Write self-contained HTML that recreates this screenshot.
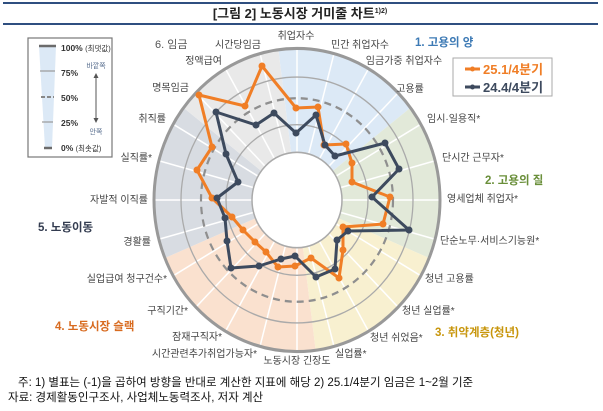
<!DOCTYPE html>
<html><head><meta charset="utf-8">
<style>
html,body{margin:0;padding:0;background:#fff;}
svg{display:block;font-family:"Liberation Sans","Noto Sans CJK KR",sans-serif;}
.lb{font-size:10px;fill:#444;}
</style></head><body>
<svg width="603" height="411" viewBox="0 0 603 411">
<line x1="3" y1="3" x2="598" y2="3" stroke="#2f4f80" stroke-width="2"/>
<line x1="3" y1="24" x2="598" y2="24" stroke="#2f4f80" stroke-width="2"/>
<text x="300" y="18" text-anchor="middle" font-size="13" font-weight="bold" fill="#222">[그림 2]  노동시장 거미줄 차트<tspan font-size="7" dy="-5">1)2)</tspan></text>

<g transform="translate(297,200) scale(1,1.06)">
<path d="M0,0 L-18.66,-141.77 A143,143 0 0 1 113.46,-87.06 Z" fill="#dce9f6"/>
<path d="M0,0 L113.46,-87.06 A143,143 0 0 1 132.12,54.73 Z" fill="#e2e9d9"/>
<path d="M0,0 L132.12,54.73 A143,143 0 0 1 18.66,141.77 Z" fill="#f8f0d0"/>
<path d="M0,0 L18.66,141.77 A143,143 0 0 1 -132.12,54.73 Z" fill="#fae1cf"/>
<path d="M0,0 L-132.12,54.73 A143,143 0 0 1 -113.46,-87.06 Z" fill="#d8dce2"/>
<path d="M0,0 L-113.46,-87.06 A143,143 0 0 1 -18.66,-141.77 Z" fill="#e9e9e9"/>
<g stroke="#fff" stroke-width="1.5">
<line x1="0" y1="-45" x2="0" y2="-143" transform="rotate(0)"/>
<line x1="0" y1="-45" x2="0" y2="-143" transform="rotate(15)"/>
<line x1="0" y1="-45" x2="0" y2="-143" transform="rotate(30)"/>
<line x1="0" y1="-45" x2="0" y2="-143" transform="rotate(45)"/>
<line x1="0" y1="-45" x2="0" y2="-143" transform="rotate(60)"/>
<line x1="0" y1="-45" x2="0" y2="-143" transform="rotate(75)"/>
<line x1="0" y1="-45" x2="0" y2="-143" transform="rotate(90)"/>
<line x1="0" y1="-45" x2="0" y2="-143" transform="rotate(105)"/>
<line x1="0" y1="-45" x2="0" y2="-143" transform="rotate(120)"/>
<line x1="0" y1="-45" x2="0" y2="-143" transform="rotate(135)"/>
<line x1="0" y1="-45" x2="0" y2="-143" transform="rotate(150)"/>
<line x1="0" y1="-45" x2="0" y2="-143" transform="rotate(165)"/>
<line x1="0" y1="-45" x2="0" y2="-143" transform="rotate(180)"/>
<line x1="0" y1="-45" x2="0" y2="-143" transform="rotate(195)"/>
<line x1="0" y1="-45" x2="0" y2="-143" transform="rotate(210)"/>
<line x1="0" y1="-45" x2="0" y2="-143" transform="rotate(225)"/>
<line x1="0" y1="-45" x2="0" y2="-143" transform="rotate(240)"/>
<line x1="0" y1="-45" x2="0" y2="-143" transform="rotate(255)"/>
<line x1="0" y1="-45" x2="0" y2="-143" transform="rotate(270)"/>
<line x1="0" y1="-45" x2="0" y2="-143" transform="rotate(285)"/>
<line x1="0" y1="-45" x2="0" y2="-143" transform="rotate(300)"/>
<line x1="0" y1="-45" x2="0" y2="-143" transform="rotate(315)"/>
<line x1="0" y1="-45" x2="0" y2="-143" transform="rotate(330)"/>
<line x1="0" y1="-45" x2="0" y2="-143" transform="rotate(345)"/>
</g>
<circle r="45" fill="#fff" stroke="#aaa" stroke-width="1.5"/>
<circle r="71" fill="none" stroke="#aaa" stroke-width="1.3"/>
<circle r="96" fill="none" stroke="#8f8f8f" stroke-width="2.2" stroke-dasharray="7,5"/>
<circle r="116" fill="none" stroke="#aaa" stroke-width="1.3"/>
<circle r="143" fill="none" stroke="#999" stroke-width="3"/>
</g>

<g fill="none" stroke-width="3" stroke-linejoin="round">
<polygon stroke="#f07e26" points="296,108 318,107 324,145 346,144 352,163 352,182 390,197 383,224 343,227 343,250 339,278 311,258 295,266 278,267 266,252 255,242 243,230 232,217 212,198 197,170 212,147 199,95 245,106 262,66"/>
<polygon stroke="#3d4a5e" points="296,133 316,115 325,145 335,156 385,143 399,169 372,197 409,230 348,231 337,240 335,269 316,277 295,256 281,259 259,266 231,268 227,241 225,218 217,198 238,182 226,154 216,112 256,125 274,113"/>
</g>
<g fill="#f07e26">
<circle cx="296" cy="108" r="3.5"/><circle cx="318" cy="107" r="3.5"/><circle cx="324" cy="145" r="3.5"/><circle cx="346" cy="144" r="3.5"/><circle cx="352" cy="163" r="3.5"/><circle cx="352" cy="182" r="3.5"/><circle cx="390" cy="197" r="3.5"/><circle cx="383" cy="224" r="3.5"/><circle cx="343" cy="227" r="3.5"/><circle cx="343" cy="250" r="3.5"/><circle cx="339" cy="278" r="3.5"/><circle cx="311" cy="258" r="3.5"/><circle cx="295" cy="266" r="3.5"/><circle cx="278" cy="267" r="3.5"/><circle cx="266" cy="252" r="3.5"/><circle cx="255" cy="242" r="3.5"/><circle cx="243" cy="230" r="3.5"/><circle cx="232" cy="217" r="3.5"/><circle cx="212" cy="198" r="3.5"/><circle cx="197" cy="170" r="3.5"/><circle cx="212" cy="147" r="3.5"/><circle cx="199" cy="95" r="3.5"/><circle cx="245" cy="106" r="3.5"/><circle cx="262" cy="66" r="3.5"/>
</g>
<g fill="#3d4a5e">
<circle cx="296" cy="133" r="3.5"/><circle cx="316" cy="115" r="3.5"/><circle cx="325" cy="145" r="3.5"/><circle cx="335" cy="156" r="3.5"/><circle cx="385" cy="143" r="3.5"/><circle cx="399" cy="169" r="3.5"/><circle cx="372" cy="197" r="3.5"/><circle cx="409" cy="230" r="3.5"/><circle cx="348" cy="231" r="3.5"/><circle cx="337" cy="240" r="3.5"/><circle cx="335" cy="269" r="3.5"/><circle cx="316" cy="277" r="3.5"/><circle cx="295" cy="256" r="3.5"/><circle cx="281" cy="259" r="3.5"/><circle cx="259" cy="266" r="3.5"/><circle cx="231" cy="268" r="3.5"/><circle cx="227" cy="241" r="3.5"/><circle cx="225" cy="218" r="3.5"/><circle cx="217" cy="198" r="3.5"/><circle cx="238" cy="182" r="3.5"/><circle cx="226" cy="154" r="3.5"/><circle cx="216" cy="112" r="3.5"/><circle cx="256" cy="125" r="3.5"/><circle cx="274" cy="113" r="3.5"/>
</g>

<g class="lb">
<text x="296" y="39" text-anchor="middle">취업자수</text>
<text x="360" y="48" text-anchor="middle">민간 취업자수</text>
<text x="404" y="64" text-anchor="middle">임금가중 취업자수</text>
<text x="410" y="92" text-anchor="middle">고용률</text>
<text x="427" y="122">임시·일용직*</text>
<text x="442" y="161">단시간 근무자*</text>
<text x="447" y="202">영세업체 취업자*</text>
<text x="440" y="244">단순노무·서비스기능원*</text>
<text x="425" y="282">청년 고용률</text>
<text x="402" y="314">청년 실업률*</text>
<text x="370" y="341">청년 쉬었음*</text>
<text x="335" y="357">실업률*</text>
<text x="297" y="364" text-anchor="middle">노동시장 긴장도</text>
<text x="257" y="357" text-anchor="end">시간관련추가취업가능자*</text>
<text x="222" y="340" text-anchor="end">잠재구직자*</text>
<text x="188" y="314" text-anchor="end">구직기간*</text>
<text x="167" y="282" text-anchor="end">실업급여 청구건수*</text>
<text x="151" y="245" text-anchor="end">경활률</text>
<text x="148" y="203" text-anchor="end">자발적 이직률</text>
<text x="152" y="161" text-anchor="end">실직률*</text>
<text x="166" y="122" text-anchor="end">취직률</text>
<text x="189" y="91" text-anchor="end">명목임금</text>
<text x="222" y="64" text-anchor="end">정액급여</text>
<text x="238" y="48" text-anchor="middle">시간당임금</text>
</g>

<text x="155" y="48" font-size="11" fill="#555">6. 임금</text>
<text x="415" y="46" font-size="11.5" font-weight="bold" fill="#3d7ab5">1. 고용의 양</text>
<text x="485" y="184" font-size="11.5" font-weight="bold" fill="#6a8f3a">2. 고용의 질</text>
<text x="435" y="336" font-size="11.5" font-weight="bold" fill="#c8960c">3. 취약계층(청년)</text>
<text x="55" y="330" font-size="11.5" font-weight="bold" fill="#d86b20">4. 노동시장 슬랙</text>
<text x="38" y="231" font-size="11.5" font-weight="bold" fill="#333c50">5. 노동이동</text>

<rect x="28" y="38" width="84" height="119" fill="#fff" stroke="#777" stroke-width="1.2"/>
<polygon points="39,46 56,46 52,148 45,148" fill="#dce9f6"/>
<line x1="39" y1="46" x2="56" y2="46" stroke="#6b6b6b" stroke-width="2.5"/>
<line x1="40" y1="71" x2="55" y2="71" stroke="#999" stroke-width="1.2"/>
<line x1="41" y1="97" x2="54" y2="97" stroke="#888" stroke-width="2" stroke-dasharray="4,2"/>
<line x1="42" y1="122" x2="53" y2="122" stroke="#999" stroke-width="1.2"/>
<line x1="44" y1="148" x2="52" y2="148" stroke="#6b6b6b" stroke-width="2.5"/>
<g font-size="8.5" fill="#333" font-weight="bold">
<text x="61" y="51">100% <tspan font-weight="normal" font-size="7.5">(최댓값)</tspan></text>
<text x="61" y="76">75%</text>
<text x="61" y="101">50%</text>
<text x="61" y="126">25%</text>
<text x="61" y="151">0% <tspan font-weight="normal" font-size="7.5">(최솟값)</tspan></text>
</g>
<text x="96" y="68" font-size="7" fill="#5a6f8f" text-anchor="middle">바깥쪽</text>
<text x="96" y="134" font-size="7" fill="#5a6f8f" text-anchor="middle">안쪽</text>
<line x1="96" y1="76" x2="96" y2="120" stroke="#555" stroke-width="1"/>
<polygon points="96,73 93.5,78 98.5,78" fill="#555"/>
<polygon points="96,123 93.5,118 98.5,118" fill="#555"/>

<rect x="453" y="58" width="99" height="38" fill="#fff" stroke="#aaa" stroke-width="1"/>
<line x1="465" y1="69" x2="480" y2="69" stroke="#f07e26" stroke-width="3"/>
<circle cx="472.5" cy="69" r="2.5" fill="#f07e26"/>
<text x="483" y="74" font-size="13" font-weight="bold" fill="#f07e26">25.1/4분기</text>
<line x1="465" y1="87" x2="480" y2="87" stroke="#3d4a5e" stroke-width="3"/>
<circle cx="472.5" cy="87" r="2.5" fill="#3d4a5e"/>
<text x="483" y="92" font-size="13" font-weight="bold" fill="#3d4a5e">24.4/4분기</text>

<text x="18" y="386" font-size="11.5" fill="#111">주: 1) 별표는 (-1)을 곱하여 방향을 반대로 계산한 지표에 해당   2) 25.1/4분기 임금은 1~2월 기준</text>
<text x="8" y="401" font-size="11.5" fill="#111">자료: 경제활동인구조사, 사업체노동력조사, 저자 계산</text>
</svg>
</body></html>
